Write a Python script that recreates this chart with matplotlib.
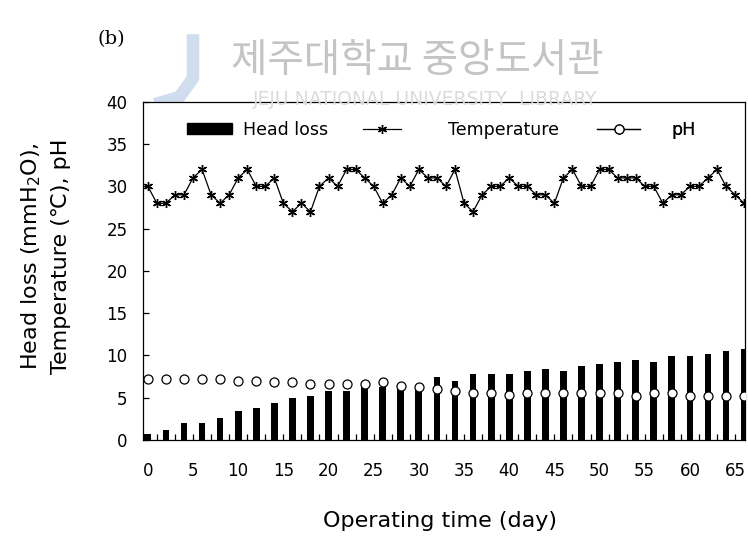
import numpy as np
import matplotlib
matplotlib.use('Agg')
import matplotlib.pyplot as plt
from matplotlib.ticker import MultipleLocator

# daily temperature (day 0 .. 66)
temp_days = list(range(0, 67))
temperature = [30, 28, 28, 29, 29, 31, 32, 29, 28, 29,
               31, 32, 30, 30, 31, 28, 27, 28, 27, 30,
               31, 30, 32, 32, 31, 30, 28, 29, 31, 30,
               32, 31, 31, 30, 32, 28, 27, 29, 30, 30,
               31, 30, 30, 29, 29, 28, 31, 32, 30, 30,
               32, 32, 31, 31, 31, 30, 30, 28, 29, 29,
               30, 30, 31, 32, 30, 29, 28]

# head loss and pH measured every 2 days
days = list(range(0, 67, 2))
head_loss = [0.7, 1.2, 2.0, 2.0, 2.6, 3.4, 3.8, 4.3, 4.9, 5.2,
             5.8, 5.8, 6.2, 6.3, 6.3, 6.2, 7.4, 7.0, 7.75, 7.75,
             7.75, 8.2, 8.35, 8.2, 8.7, 9.0, 9.25, 9.4, 9.25, 9.9,
             9.9, 10.2, 10.5, 10.7]
ph = [7.2, 7.2, 7.2, 7.2, 7.2, 7.0, 7.0, 6.8, 6.8, 6.6,
      6.6, 6.6, 6.6, 6.8, 6.4, 6.2, 6.0, 5.8, 5.6, 5.6,
      5.25, 5.6, 5.6, 5.5, 5.5, 5.5, 5.5, 5.15, 5.5, 5.5,
      5.15, 5.15, 5.15, 5.15]

plt.rcParams['font.family'] = ['DejaVu Sans']

fig = plt.figure(figsize=(7.48, 5.39), dpi=100)
ax = fig.add_axes([0.191, 0.184, 0.805, 0.627])

# watermark
fig.text(0.558, 0.887, '제주대학교 중앙도서관', fontsize=28.5, color='#c4c4c4',
         ha='center', va='center', family=['Noto Sans CJK KR', 'DejaVu Sans'])
fig.text(0.568, 0.815, 'JEJU NATIONAL UNIVERSITY  LIBRARY', fontsize=13.5,
         color='#dcdcdc', ha='center', va='center')
fig.add_artist(plt.Line2D([0.258, 0.258, 0.24, 0.215], [0.925, 0.855, 0.82, 0.81],
                          color='#c3d5ea', lw=9, alpha=0.8,
                          transform=fig.transFigure, zorder=0))

ax.bar(days, head_loss, width=0.75, color='black', label='Head loss', zorder=2)
ax.plot(temp_days, temperature, color='black', lw=0.9, marker=(6, 2, 0),
        markersize=6.5, markeredgewidth=1.0, label='Temperature', zorder=3)
ax.plot(days, ph, color='black', lw=0, marker='o', markersize=6.5,
        markerfacecolor='white', markeredgecolor='black', markeredgewidth=0.9,
        label='pH', zorder=4)

ax.set_xlim(-0.55, 66.1)
ax.set_ylim(0, 40)
ax.xaxis.set_major_locator(MultipleLocator(5))
ax.xaxis.set_minor_locator(MultipleLocator(1))
ax.yaxis.set_major_locator(MultipleLocator(5))
ax.tick_params(axis='both', which='both', direction='in', labelsize=12,
               width=0.9, length=4)
ax.tick_params(axis='x', which='both', top=False, pad=16)
ax.tick_params(axis='y', right=False, pad=11)
for s in ax.spines.values():
    s.set_linewidth(0.9)

ax.set_xlabel('Operating time (day)', fontsize=16)
ax.xaxis.set_label_coords(0.493, -0.21)
ax.set_ylabel('Head loss (mmH$_2$O),\nTemperature (\u2103), pH',
              fontsize=16, linespacing=1.45)
ax.yaxis.set_label_coords(-0.12, 0.544)

# legend: three separate entries placed like the original
h_bar = plt.Rectangle((0, 0), 1, 1, color='black')
h_t = plt.Line2D([], [], color='black', lw=0.9, marker=(6, 2, 0),
                 markersize=6.5, markeredgewidth=1.0)
h_p = plt.Line2D([], [], color='black', lw=0.9, marker='o', markersize=6.5,
                 markerfacecolor='white', markeredgewidth=0.9)
entries = [(h_bar, 'Head loss', 0.073, 2.6, 0.65),
           (h_t, 'Temperature', 0.365, 2.2, 2.7),
           (h_p, 'pH', 0.754, 2.5, 1.8)]
for handle, text, xpos, hl, pad in entries:
    leg = ax.legend([handle], [text], frameon=False, loc='center left',
                    bbox_to_anchor=(xpos, 0.917), fontsize=12.5,
                    handlelength=hl, handletextpad=pad, borderpad=0,
                    borderaxespad=0, handleheight=0.6)
    ax.add_artist(leg)

fig.text(0.131, 0.928, '(b)', fontsize=14, family='DejaVu Serif',
         ha='left', va='center')

fig.savefig('out.png', dpi=100)
